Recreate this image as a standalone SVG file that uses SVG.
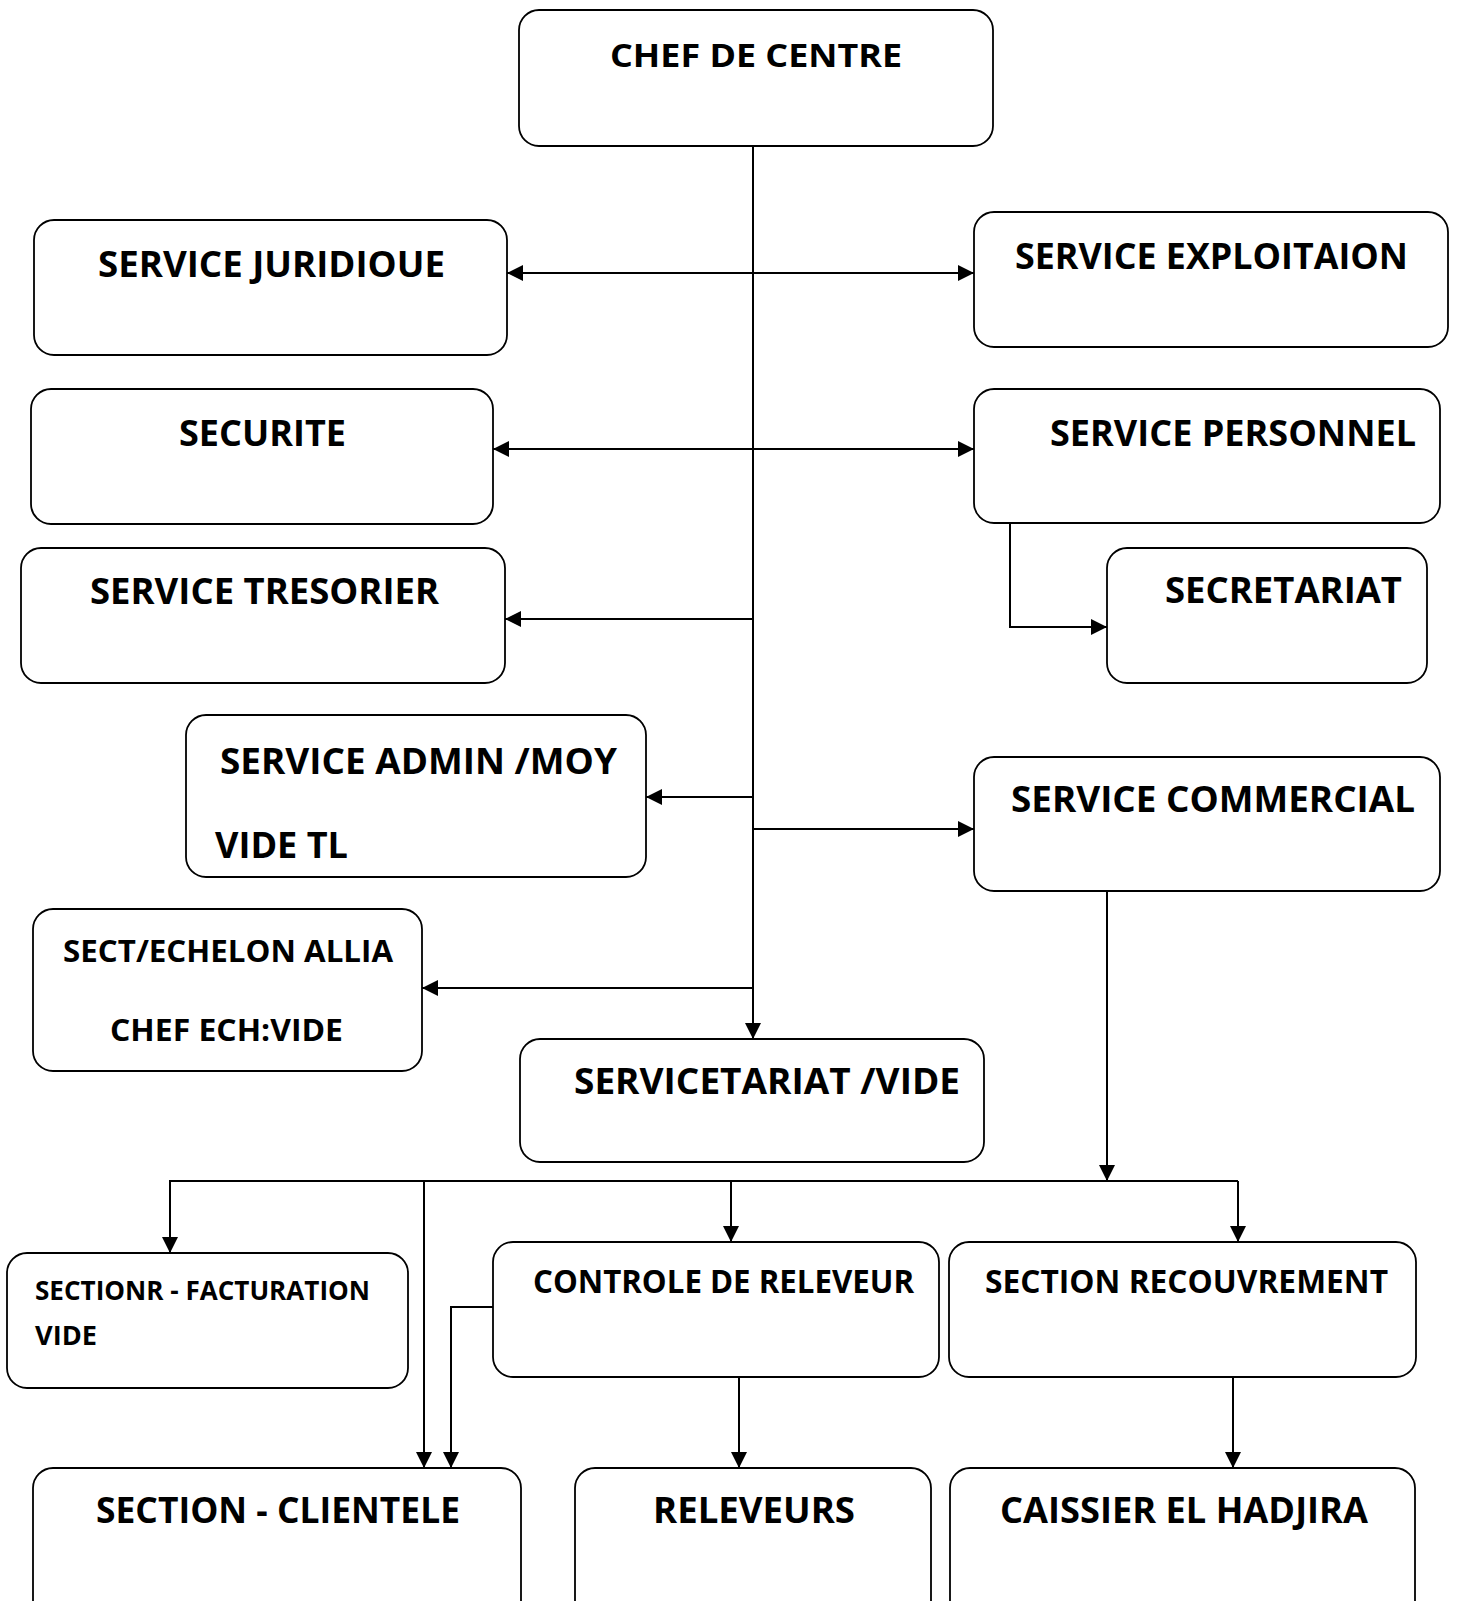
<svg xmlns="http://www.w3.org/2000/svg" width="1459" height="1601" viewBox="0 0 1459 1601">
<style>
.box{fill:#fff;stroke:#000;stroke-width:1.8}
.t{font-family:"Open Sans","Liberation Sans",sans-serif;font-weight:700;fill:#000;font-size:35px}
.m{font-size:32px}
.s{font-size:31px}
.xs{font-size:26px}
.c{fill:none;stroke:#000;stroke-width:2}
</style>
<defs>
<marker id="ah" viewBox="0 0 16 16" refX="16" refY="8" markerWidth="16" markerHeight="16" markerUnits="userSpaceOnUse" orient="auto-start-reverse">
<path d="M0,0 L16,8 L0,16 Z" fill="#000"/>
</marker>
</defs>
<g id="connectors">
<path class="c" d="M753,146 V1039" marker-end="url(#ah)"/>
<path class="c" d="M507,273 H974" marker-start="url(#ah)" marker-end="url(#ah)"/>
<path class="c" d="M493,449 H974" marker-start="url(#ah)" marker-end="url(#ah)"/>
<path class="c" d="M753,619 H505" marker-end="url(#ah)"/>
<path class="c" d="M753,797 H646" marker-end="url(#ah)"/>
<path class="c" d="M753,829 H974" marker-end="url(#ah)"/>
<path class="c" d="M753,988 H422" marker-end="url(#ah)"/>
<path class="c" d="M1010,523 V627 H1107" marker-end="url(#ah)"/>
<path class="c" d="M1107,891 V1181" marker-end="url(#ah)"/>
<path class="c" d="M169,1181 H1238"/>
<path class="c" d="M170,1181 V1253" marker-end="url(#ah)"/>
<path class="c" d="M424,1181 V1468" marker-end="url(#ah)"/>
<path class="c" d="M731,1181 V1242" marker-end="url(#ah)"/>
<path class="c" d="M1238,1181 V1242" marker-end="url(#ah)"/>
<path class="c" d="M493,1307 H451 V1468" marker-end="url(#ah)"/>
<path class="c" d="M739,1377 V1468" marker-end="url(#ah)"/>
<path class="c" d="M1233,1377 V1468" marker-end="url(#ah)"/>
</g>
<g id="chef"><rect class="box" x="519" y="10" width="474" height="136" rx="20"/><text class="t m" x="610" y="67" textLength="292" lengthAdjust="spacingAndGlyphs">CHEF DE CENTRE</text></g>
<g id="juridique"><rect class="box" x="34" y="220" width="473" height="135" rx="20"/><text class="t" x="98" y="277" textLength="347" lengthAdjust="spacingAndGlyphs">SERVICE JURIDIOUE</text></g>
<g id="exploitation"><rect class="box" x="974" y="212" width="474" height="135" rx="20"/><text class="t" x="1015" y="269" textLength="393" lengthAdjust="spacingAndGlyphs">SERVICE EXPLOITAION</text></g>
<g id="securite"><rect class="box" x="31" y="389" width="462" height="135" rx="20"/><text class="t" x="179" y="446" textLength="167" lengthAdjust="spacingAndGlyphs">SECURITE</text></g>
<g id="personnel"><rect class="box" x="974" y="389" width="466" height="134" rx="20"/><text class="t" x="1050" y="446" textLength="366" lengthAdjust="spacingAndGlyphs">SERVICE PERSONNEL</text></g>
<g id="tresorier"><rect class="box" x="21" y="548" width="484" height="135" rx="20"/><text class="t" x="90" y="604" textLength="349" lengthAdjust="spacingAndGlyphs">SERVICE TRESORIER</text></g>
<g id="secretariat"><rect class="box" x="1107" y="548" width="320" height="135" rx="20"/><text class="t" x="1165" y="603" textLength="237" lengthAdjust="spacingAndGlyphs">SECRETARIAT</text></g>
<g id="admin"><rect class="box" x="186" y="715" width="460" height="162" rx="20"/><text class="t" x="220" y="774" textLength="397" lengthAdjust="spacingAndGlyphs">SERVICE ADMIN /MOY</text><text class="t" x="215" y="858" textLength="133" lengthAdjust="spacingAndGlyphs">VIDE TL</text></g>
<g id="commercial"><rect class="box" x="974" y="757" width="466" height="134" rx="20"/><text class="t" x="1011" y="812" textLength="404" lengthAdjust="spacingAndGlyphs">SERVICE COMMERCIAL</text></g>
<g id="echelon"><rect class="box" x="33" y="909" width="389" height="162" rx="20"/><text class="t s" x="63" y="962" textLength="330" lengthAdjust="spacingAndGlyphs">SECT/ECHELON ALLIA</text><text class="t s" x="110" y="1041" textLength="233" lengthAdjust="spacingAndGlyphs">CHEF ECH:VIDE</text></g>
<g id="servicetariat"><rect class="box" x="520" y="1039" width="464" height="123" rx="20"/><text class="t" x="574" y="1094" textLength="386" lengthAdjust="spacingAndGlyphs">SERVICETARIAT /VIDE</text></g>
<g id="facturation"><rect class="box" x="7" y="1253" width="401" height="135" rx="20"/><text class="t xs" x="35" y="1300" textLength="335" lengthAdjust="spacingAndGlyphs">SECTIONR - FACTURATION</text><text class="t xs" x="35" y="1345" textLength="62" lengthAdjust="spacingAndGlyphs">VIDE</text></g>
<g id="controle"><rect class="box" x="493" y="1242" width="446" height="135" rx="20"/><text class="t m" x="533" y="1293" textLength="381" lengthAdjust="spacingAndGlyphs">CONTROLE DE RELEVEUR</text></g>
<g id="recouvrement"><rect class="box" x="949" y="1242" width="467" height="135" rx="20"/><text class="t m" x="985" y="1293" textLength="403" lengthAdjust="spacingAndGlyphs">SECTION RECOUVREMENT</text></g>
<g id="clientele"><rect class="box" x="33" y="1468" width="488" height="160" rx="20"/><text class="t" x="96" y="1523" textLength="364" lengthAdjust="spacingAndGlyphs">SECTION - CLIENTELE</text></g>
<g id="releveurs"><rect class="box" x="575" y="1468" width="356" height="160" rx="20"/><text class="t" x="653" y="1523" textLength="202" lengthAdjust="spacingAndGlyphs">RELEVEURS</text></g>
<g id="caissier"><rect class="box" x="950" y="1468" width="465" height="160" rx="20"/><text class="t" x="1000" y="1523" textLength="368" lengthAdjust="spacingAndGlyphs">CAISSIER EL HADJIRA</text></g>
</svg>
